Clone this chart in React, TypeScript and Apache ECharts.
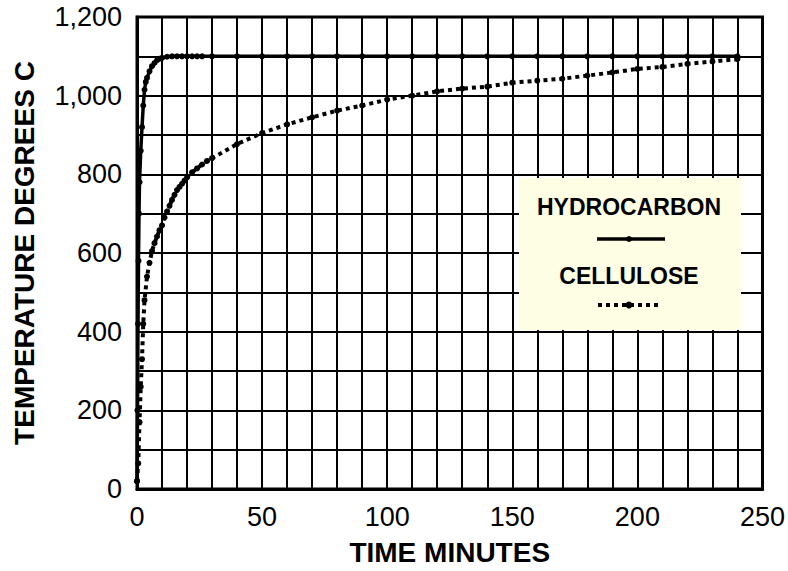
import React, { useEffect, useRef } from "react";
import * as echarts from "echarts";

const hydroTime = [0, 0.2, 0.4, 0.6, 0.8, 1, 1.5, 2, 2.5, 3, 3.5, 4, 5, 6, 7, 8, 9, 10, 12, 14, 16, 18, 20, 22, 24, 26, 30, 40, 50, 60, 70, 80, 90, 100, 110, 120, 130, 140, 150, 160, 170, 180, 190, 200, 210, 220, 230, 240];
const hydroTemp = [20, 200, 420, 580, 700, 780, 860, 920, 975, 1015, 1035, 1045, 1062, 1075, 1083, 1090, 1094, 1096, 1099, 1100, 1100, 1100, 1100, 1100, 1100, 1100, 1100, 1100, 1100, 1100, 1100, 1100, 1100, 1100, 1100, 1100, 1100, 1100, 1100, 1100, 1100, 1100, 1100, 1100, 1100, 1100, 1100, 1100];

const celluTime = [0, 0.5, 1, 1.5, 2, 2.5, 3, 4, 5, 6, 7, 8, 9, 10, 11, 12, 13, 14, 15, 16, 17, 18, 19, 20, 22, 24, 26, 28, 30, 40, 50, 60, 70, 80, 90, 100, 110, 120, 130, 140, 150, 160, 170, 180, 190, 200, 210, 220, 230, 240];
const celluTemp = [20, 65, 170, 260, 330, 420, 480, 540, 575, 605, 625, 642, 658, 670, 690, 705, 720, 735, 748, 760, 768, 776, 784, 792, 805, 815, 825, 834, 841, 877, 905, 927, 945, 962, 975, 990, 1000, 1011, 1018, 1023, 1033, 1038, 1043, 1051, 1059, 1068, 1073, 1081, 1087, 1093];

const legendNames = ["HYDROCARBON", "CELLULOSE"];
const xAxisTitle = "TIME MINUTES";
const yAxisTitle = "TEMPERATURE DEGREES C";

const FONT = "'Liberation Sans', Arial, sans-serif";

export default function App() {
  const ref = useRef<HTMLDivElement>(null);
  useEffect(() => {
    if (!ref.current) return;
    const chart = echarts.init(ref.current, null, { renderer: "svg" });
    const hydro = hydroTime.map((t, i) => [t, hydroTemp[i]]);
    const cellu = celluTime.map((t, i) => [t, celluTemp[i]]);
    chart.setOption({
      animation: false,
      backgroundColor: "#fff",
      grid: {
        left: 137,
        right: 23,
        top: 17,
        bottom: 79,
        show: true,
        borderColor: "#000",
        borderWidth: 3,
        backgroundColor: "#fff",
      },
      xAxis: {
        type: "value",
        min: 0,
        max: 250,
        interval: 10,
        name: xAxisTitle,
        nameLocation: "middle",
        nameGap: 49,
        nameTextStyle: { fontFamily: FONT, fontSize: 28, fontWeight: "bold", color: "#000" },
        axisLine: { show: true, lineStyle: { color: "#000", width: 3 } },
        axisTick: { show: false },
        axisLabel: {
          fontFamily: FONT,
          fontSize: 27,
          color: "#000",
          margin: 14,
          showMaxLabel: true,
          formatter: (v: number) => (v % 50 === 0 ? String(v) : ""),
        },
        splitLine: { show: true, lineStyle: { color: "#000", width: 2 } },
      },
      yAxis: {
        type: "value",
        min: 0,
        max: 1200,
        interval: 100,
        name: yAxisTitle,
        nameLocation: "middle",
        nameGap: 99,
        nameTextStyle: { fontFamily: FONT, fontSize: 28, fontWeight: "bold", color: "#000" },
        axisLine: { show: true, lineStyle: { color: "#000", width: 3 } },
        axisTick: { show: false },
        axisLabel: {
          fontFamily: FONT,
          fontSize: 27,
          color: "#000",
          margin: 15,
          formatter: (v: number) => (v % 200 === 0 ? v.toLocaleString("en-US") : ""),
        },
        splitLine: { show: true, lineStyle: { color: "#000", width: 2 } },
      },
      series: [
        {
          name: legendNames[0],
          type: "line",
          data: hydro,
          showAllSymbol: true,
          symbol: "circle",
          symbolSize: 6,
          itemStyle: { color: "#000" },
          lineStyle: { color: "#000", width: 3.5 },
          z: 5,
        },
        {
          name: legendNames[1],
          type: "line",
          data: cellu,
          showAllSymbol: true,
          symbol: "circle",
          symbolSize: 6,
          itemStyle: { color: "#000" },
          lineStyle: { color: "#000", width: 4, type: [4, 4] },
          z: 5,
        },
      ],
      graphic: [
        {
          type: "rect",
          shape: { x: 519, y: 178, width: 222, height: 152 },
          style: { fill: "#FEFEE4", stroke: "none" },
          z: 100,
        },
        {
          type: "text",
          x: 629,
          y: 207,
          style: {
            text: legendNames[0],
            fontFamily: FONT,
            fontSize: 23,
            fontWeight: "bold",
            fill: "#000",
            align: "center",
            verticalAlign: "middle",
          },
          z: 101,
        },
        {
          type: "line",
          shape: { x1: 597, y1: 239, x2: 665, y2: 239 },
          style: { stroke: "#000", lineWidth: 3.5 },
          z: 101,
        },
        {
          type: "circle",
          shape: { cx: 629, cy: 239, r: 3 },
          style: { fill: "#000" },
          z: 102,
        },
        {
          type: "text",
          x: 629,
          y: 276,
          style: {
            text: legendNames[1],
            fontFamily: FONT,
            fontSize: 23,
            fontWeight: "bold",
            fill: "#000",
            align: "center",
            verticalAlign: "middle",
          },
          z: 101,
        },
        {
          type: "line",
          shape: { x1: 598, y1: 305, x2: 662, y2: 305 },
          style: { stroke: "#000", lineWidth: 4, lineDash: [4, 4] },
          z: 101,
        },
        {
          type: "circle",
          shape: { cx: 629, cy: 305, r: 3.5 },
          style: { fill: "#000" },
          z: 102,
        },
      ],
    });
    return () => chart.dispose();
  }, []);
  return (
    <div
      ref={ref}
      style={{ position: "fixed", left: 0, top: 0, width: 788, height: 571, background: "#fff" }}
    />
  );
}
